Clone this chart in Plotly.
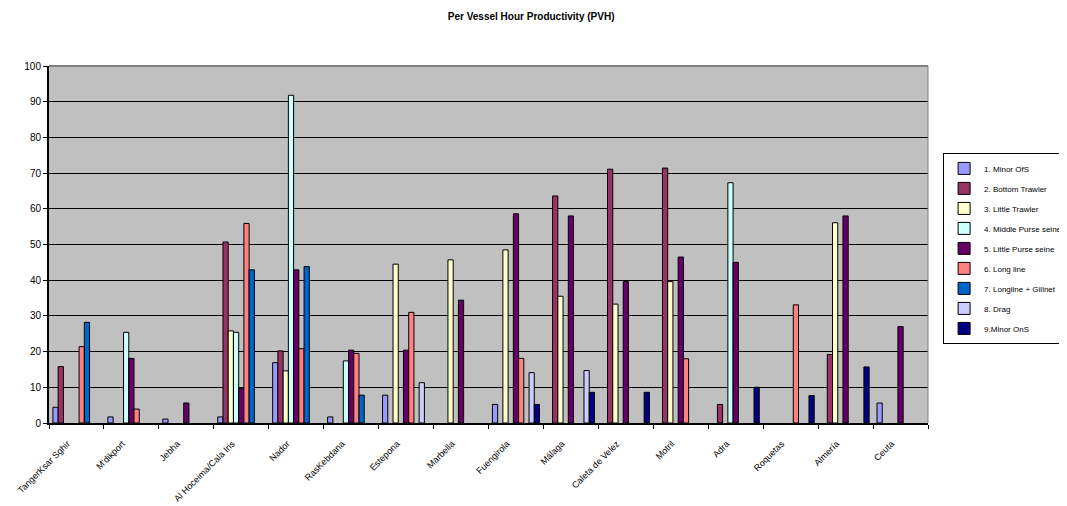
import plotly.graph_objects as go

categories = ["TangerKsar Sghir", "M'dikport", "Jebha", "Al Hoceima/Cala Iris", "Nador",
              "RasKebdana", "Estepona", "Marbella", "Fuengirola", "Málaga",
              "Caleta de Velez", "Motril", "Adra", "Roquetas", "Almería", "Ceuta"]

series_names = ["1. Minor OfS", "2. Bottom Trawler", "3. Little Trawler", "4. Middle Purse seine",
                "5. Little Purse seine", "6. Long line", "7. Longline + Gillnet", "8. Drag", "9.Minor OnS"]

minor_ofs = [4.4, 1.7, 1.1, 1.7, 16.9, 1.7, 7.8, None, 5.2, None, None, None, None, None, None, 5.6]
bottom_trawler = [15.8, None, None, 50.7, 20.2, None, None, None, None, 63.6, 71.1, 71.4, 5.2, None, 19.2, None]
little_trawler = [None, None, None, 25.8, 14.6, None, 44.5, 45.7, 48.5, 35.5, 33.3, 39.6, None, None, 56.1, None]
middle_purse = [None, 25.4, None, 25.4, 91.8, 17.4, None, None, None, None, None, None, 67.3, None, None, None]
little_purse = [None, 18.1, 5.6, 9.7, 42.9, 20.4, 20.4, 34.4, 58.6, 58.0, 39.6, 46.5, 45.0, None, 58.0, 27.0]
long_line = [21.4, 3.9, None, 55.9, 20.8, 19.5, 31.0, None, 18.1, None, None, 18.0, None, 33.1, None, None]
longline_gillnet = [28.2, None, None, 42.9, 43.8, 7.8, None, None, None, None, None, None, None, None, None, None]
drag = [None, None, None, None, None, None, 11.3, None, 14.1, 14.7, None, None, None, None, None, None]
minor_ons = [None, None, None, None, None, None, None, None, 5.2, 8.6, 8.6, None, 10.0, 7.7, 15.7, None]

series_values = [minor_ofs, bottom_trawler, little_trawler, middle_purse, little_purse,
                 long_line, longline_gillnet, drag, minor_ons]
colors = ["#9999FF", "#993366", "#FFFFCC", "#CCFFFF", "#660066", "#FF8080", "#0066CC", "#CCCCFF", "#000080"]

y_ticks = list(range(0, 101, 10))

fig = go.Figure()
for i, (name, vals, col) in enumerate(zip(series_names, series_values, colors)):
    fig.add_trace(go.Bar(
        x=categories, y=vals, name=name, legendgroup=f"g{i}",
        marker=dict(color=col, line=dict(color="black", width=1)),
    ))

font_family = "Liberation Sans, Arial, sans-serif"

# page body adds an 8px offset; figure is sized to the remaining viewport
fig.update_layout(
    width=1059, height=498,
    barmode="group", bargap=0.143, bargroupgap=0,
    paper_bgcolor="white", plot_bgcolor="#C0C0C0",
    margin=dict(l=41, r=139, t=58, b=83, autoexpand=False),
    font=dict(family=font_family, size=9, color="black"),
    title=dict(text="<b>Per Vessel Hour Productivity (PVH)</b>", x=0.494, xanchor="center",
               y=0.982, yanchor="middle", font=dict(size=10, family=font_family)),
    showlegend=True,
    legend=dict(xref="container", yref="container", x=0.883, xanchor="left", y=0.709, yanchor="top",
                bordercolor="black", borderwidth=1, bgcolor="white",
                font=dict(size=8, family=font_family), tracegroupgap=1,
                itemwidth=30),
    xaxis=dict(type="category", tickson="boundaries", ticks="outside", ticklen=4,
               tickcolor="black", showline=True, linecolor="black", linewidth=2,
               showgrid=False, tickangle=-45, tickfont=dict(size=9, family=font_family),
               ticklabelstandoff=10, ticklabelshift=-9,
               automargin=False),
    yaxis=dict(range=[0, 100], tickvals=y_ticks, ticks="outside", ticklen=4,
               tickcolor="black", showline=True, linecolor="black", linewidth=2,
               showgrid=True, gridcolor="black", gridwidth=1, zeroline=False,
               tickfont=dict(size=10, family=font_family), automargin=False),
)

fig.add_shape(type="line", xref="paper", yref="paper", x0=0, x1=1, y0=1, y1=1,
              line=dict(color="#808080", width=2))
fig.add_shape(type="line", xref="paper", yref="paper", x0=1, x1=1, y0=0, y1=1,
              line=dict(color="#808080", width=1))

fig.write_html("out.html")
